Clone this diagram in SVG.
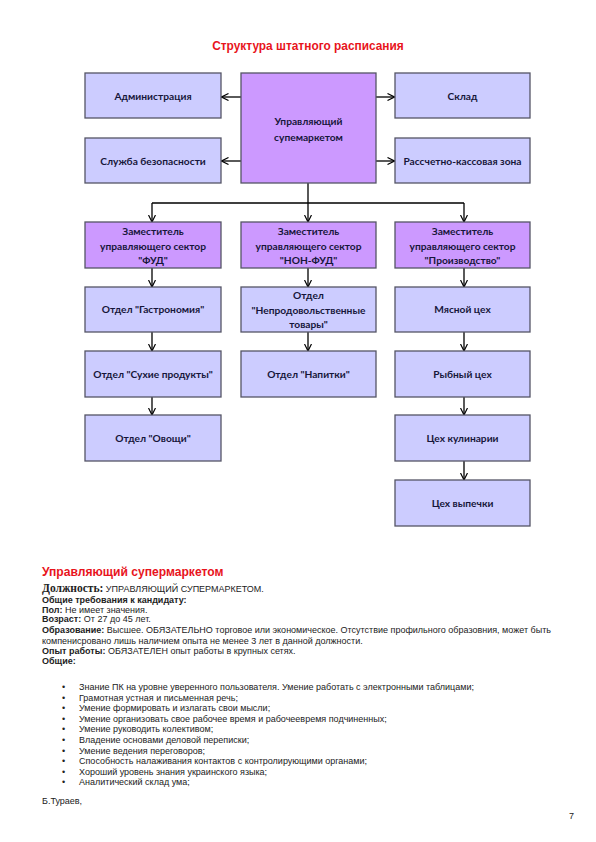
<svg xmlns="http://www.w3.org/2000/svg" width="596" height="842" viewBox="0 0 596 842">
<style>
.bg{fill:#ffffff}
.lt{fill:#ccccff;stroke:#555566;stroke-width:1.3}
.dk{fill:#cc99ff;stroke:#555566;stroke-width:1.3}
.bl{font-family:Lato,"Open Sans","Liberation Sans",sans-serif;font-weight:700;font-size:10.2px;fill:#16163a;text-anchor:middle}
.cn{fill:none;stroke:#000;stroke-width:1.3}
.ttl{font-family:"Liberation Sans",Arial,sans-serif;font-weight:700;fill:#e8141c}
.tx{font-family:"Liberation Sans",Arial,sans-serif;font-size:9px;fill:#222}
.b{font-weight:700}
.sr{font-family:"Liberation Serif","Times New Roman",serif;font-weight:700;font-size:11.5px}
</style>
<defs>
<marker id="ar" viewBox="0 0 8 8" refX="7.5" refY="4" markerWidth="8" markerHeight="8" markerUnits="userSpaceOnUse" orient="auto">
<path d="M0.5,0.5 L7.5,4 L0.5,7.5" fill="none" stroke="#000" stroke-width="1.2"/>
</marker>
</defs>
<rect class="bg" x="0" y="0" width="596" height="842"/>
<text class="ttl" x="308" y="50" font-size="11.9" text-anchor="middle">Структура штатного расписания</text>

<g id="connectors">
<line class="cn" x1="241" y1="97" x2="221.5" y2="97" marker-end="url(#ar)"/>
<line class="cn" x1="241" y1="161" x2="221.5" y2="161" marker-end="url(#ar)"/>
<line class="cn" x1="376" y1="97" x2="394.5" y2="97" marker-end="url(#ar)"/>
<line class="cn" x1="376" y1="161" x2="394.5" y2="161" marker-end="url(#ar)"/>
<path class="cn" d="M308,183 V203 M152,203 H464"/>
<line class="cn" x1="152" y1="203" x2="152" y2="222" marker-end="url(#ar)"/>
<line class="cn" x1="308" y1="203" x2="308" y2="222" marker-end="url(#ar)"/>
<line class="cn" x1="464" y1="203" x2="464" y2="222" marker-end="url(#ar)"/>
<line class="cn" x1="152" y1="268" x2="152" y2="287" marker-end="url(#ar)"/>
<line class="cn" x1="152" y1="332" x2="152" y2="351" marker-end="url(#ar)"/>
<line class="cn" x1="152" y1="397" x2="152" y2="415" marker-end="url(#ar)"/>
<line class="cn" x1="308" y1="268" x2="308" y2="287" marker-end="url(#ar)"/>
<line class="cn" x1="308" y1="332" x2="308" y2="351" marker-end="url(#ar)"/>
<line class="cn" x1="464" y1="268" x2="464" y2="287" marker-end="url(#ar)"/>
<line class="cn" x1="464" y1="332" x2="464" y2="351" marker-end="url(#ar)"/>
<line class="cn" x1="464" y1="397" x2="464" y2="415" marker-end="url(#ar)"/>
<line class="cn" x1="464" y1="461" x2="464" y2="480" marker-end="url(#ar)"/>
</g>

<g id="admin"><rect class="lt" x="85" y="73" width="136" height="45"/><text class="bl" x="153" y="99.5">Администрация</text></g>
<g id="security"><rect class="lt" x="85" y="138" width="136" height="45"/><text class="bl" x="153" y="164.5">Служба безопасности</text></g>
<g id="manager"><rect class="dk" x="241" y="73" width="135" height="110"/><text class="bl" x="308.5" y="125">Управляющий</text><text class="bl" x="308.5" y="141">супемаркетом</text></g>
<g id="warehouse"><rect class="lt" x="395" y="73" width="135" height="45"/><text class="bl" x="462.5" y="99.5">Склад</text></g>
<g id="cash"><rect class="lt" x="395" y="138" width="135" height="45"/><text class="bl" x="462.5" y="164.5">Рассчетно-кассовая зона</text></g>

<g id="dep-food"><rect class="dk" x="85" y="222" width="136" height="46"/><text class="bl" x="153" y="235">Заместитель</text><text class="bl" x="153" y="249.5">управляющего сектор</text><text class="bl" x="153" y="264">"ФУД"</text></g>
<g id="dep-nonfood"><rect class="dk" x="241" y="222" width="135" height="46"/><text class="bl" x="308.5" y="235">Заместитель</text><text class="bl" x="308.5" y="249.5">управляющего сектор</text><text class="bl" x="308.5" y="264">"НОН-ФУД"</text></g>
<g id="dep-prod"><rect class="dk" x="395" y="222" width="135" height="46"/><text class="bl" x="462.5" y="235">Заместитель</text><text class="bl" x="462.5" y="249.5">управляющего сектор</text><text class="bl" x="462.5" y="264">"Производство"</text></g>

<g id="gastro"><rect class="lt" x="85" y="287" width="136" height="45"/><text class="bl" x="153" y="313">Отдел "Гастрономия"</text></g>
<g id="dry"><rect class="lt" x="85" y="351" width="136" height="46"/><text class="bl" x="153" y="377.5">Отдел "Сухие продукты"</text></g>
<g id="veg"><rect class="lt" x="85" y="415" width="136" height="46"/><text class="bl" x="153" y="441.5">Отдел "Овощи"</text></g>

<g id="nonfood"><rect class="lt" x="241" y="287" width="135" height="45"/><text class="bl" x="308.5" y="299">Отдел</text><text class="bl" x="308.5" y="314">"Непродовольственные</text><text class="bl" x="308.5" y="328">товары"</text></g>
<g id="drinks"><rect class="lt" x="241" y="351" width="135" height="46"/><text class="bl" x="308.5" y="377.5">Отдел "Напитки"</text></g>

<g id="meat"><rect class="lt" x="395" y="287" width="135" height="45"/><text class="bl" x="462.5" y="313">Мясной цех</text></g>
<g id="fish"><rect class="lt" x="395" y="351" width="135" height="46"/><text class="bl" x="462.5" y="377.5">Рыбный цех</text></g>
<g id="culinary"><rect class="lt" x="395" y="415" width="135" height="46"/><text class="bl" x="462.5" y="441.5">Цех кулинарии</text></g>
<g id="bakery"><rect class="lt" x="395" y="480" width="135" height="46"/><text class="bl" x="462.5" y="506.5">Цех выпечки</text></g>

<text class="ttl" x="42" y="576" font-size="12.1">Управляющий супермаркетом</text>
<text class="tx" x="42" y="592"><tspan class="sr">Должность:</tspan> УПРАВЛЯЮЩИЙ СУПЕРМАРКЕТОМ.</text>
<text class="tx b" x="42" y="602.5">Общие требования к кандидату:</text>
<text class="tx" x="42" y="612.5"><tspan class="b">Пол:</tspan> Не имеет значения.</text>
<text class="tx" x="42" y="622"><tspan class="b">Возраст:</tspan> От 27 до 45 лет.</text>
<text class="tx" x="42" y="633"><tspan class="b">Образование:</tspan> Высшее. ОБЯЗАТЕЛЬНО торговое или экономическое. Отсутствие профильного образовния, может быть</text>
<text class="tx" x="42" y="643.5">компенисровано лишь наличием опыта не менее 3 лет в данной должности.</text>
<text class="tx" x="42" y="653.5"><tspan class="b">Опыт работы:</tspan> ОБЯЗАТЕЛЕН опыт работы в крупных сетях.</text>
<text class="tx b" x="42" y="664">Общие:</text>

<g class="tx">
<text x="62" y="690">•</text><text x="79" y="690">Знание ПК на уровне уверенного пользователя. Умение работать с электронными таблицами;</text>
<text x="62" y="700.5">•</text><text x="79" y="700.5">Грамотная устная и письменная речь;</text>
<text x="62" y="711">•</text><text x="79" y="711">Умение формировать и излагать свои мысли;</text>
<text x="62" y="721.5">•</text><text x="79" y="721.5">Умение организовать свое рабочее время и рабочеевремя подчиненных;</text>
<text x="62" y="732">•</text><text x="79" y="732">Умение руководить колективом;</text>
<text x="62" y="743">•</text><text x="79" y="743">Владение основами деловой переписки;</text>
<text x="62" y="753.5">•</text><text x="79" y="753.5">Умение ведения переговоров;</text>
<text x="62" y="764">•</text><text x="79" y="764">Способность налаживания контактов с контролирующими органами;</text>
<text x="62" y="774.5">•</text><text x="79" y="774.5">Хороший уровень знания украинского языка;</text>
<text x="62" y="785">•</text><text x="79" y="785">Аналитический склад ума;</text>
</g>
<text class="tx" x="42" y="804" font-size="9">Б.Тураев,</text>
<text class="tx" x="569" y="819" font-size="10">7</text>
</svg>
